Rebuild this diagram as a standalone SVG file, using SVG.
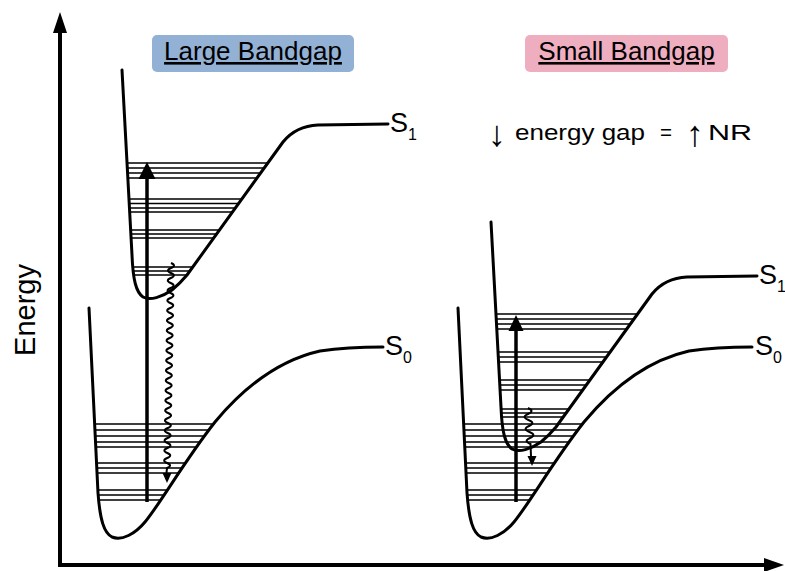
<svg xmlns="http://www.w3.org/2000/svg" xmlns:xlink="http://www.w3.org/1999/xlink" width="785" height="571" viewBox="0 0 785 571">
<style>
.curve{fill:none;stroke:#000;stroke-width:3;stroke-linecap:round;stroke-linejoin:round}
.lvl{stroke:#000;stroke-width:1.6}
.axis{stroke:#000;stroke-width:4;fill:none}
.exc{stroke:#000;stroke-width:3.5;fill:none}
.wavy{stroke:#000;stroke-width:2;fill:none}
.head{fill:#000}
text{font-family:"Liberation Sans",Arial,sans-serif;fill:#000}
.title{font-size:26px;text-decoration:underline;text-anchor:middle}
.lab{font-size:27px}
.sub{font-size:16px}
.arr{font-size:36px}
</style>
<defs>
<path id="s1" d="M122,70 L132,255 C133,280 136,292 143,297 C150,301 162,297 172,290 C178,285 182,281 187,275 L283,142 Q296,126 318,125 L388,124"/>
<path id="s0" d="M89,308 L98,493 C100,520 104,533 112,537 C122,541 135,534 145,522 C160,504 185,460 215,422 C245,386 280,360 320,351 C340,348 360,347 383,347"/>
<clipPath id="cS1L"><use xlink:href="#s1"/></clipPath>
<clipPath id="cS0L"><use xlink:href="#s0"/></clipPath>
<clipPath id="cS1R"><use xlink:href="#s1" transform="translate(369,152)"/></clipPath>
<clipPath id="cS0R"><use xlink:href="#s0" transform="translate(369,0)"/></clipPath>
</defs>

<g id="axes">
<line class="axis" x1="60" y1="567" x2="60" y2="30"/>
<polygon class="head" points="60,12 53,33 67,33"/>
<line class="axis" x1="58" y1="565" x2="768" y2="565"/>
<polygon class="head" points="784,565 764,558 764,572"/>
<text transform="translate(35,310) rotate(-90)" font-size="29" text-anchor="middle" fill="#111">Energy</text>
</g>

<g id="title-large">
<rect x="152" y="35" width="202" height="37" rx="5" fill="#93b1d5"/>
<text class="title" x="253" y="60">Large Bandgap</text>
</g>
<g id="title-small">
<rect x="525" y="35" width="203" height="37" rx="5" fill="#efaec0"/>
<text class="title" x="626.5" y="60">Small Bandgap</text>
</g>
<g id="note">
<text y="140" font-size="22" style="white-space:pre"><tspan class="arr" x="488" y="146">↓</tspan><tspan x="515" y="140" textLength="130" lengthAdjust="spacingAndGlyphs">energy gap</tspan><tspan x="660" y="140" textLength="12" lengthAdjust="spacingAndGlyphs">=</tspan><tspan class="arr" x="686" y="146">↑</tspan><tspan x="708" y="140" textLength="44" lengthAdjust="spacingAndGlyphs">NR</tspan></text>
</g>

<g id="levels-left">
<g clip-path="url(#cS1L)">
<path class="lvl" d="M100,163H300M100,168H300M100,173H300M100,178H300M100,199H300M100,203.5H300M100,208H300M100,212H300M100,230H300M100,234H300M100,238H300M100,267H300M100,271H300M100,275H300"/>
</g>
<g clip-path="url(#cS0L)">
<path class="lvl" d="M80,424H300M80,430H300M80,436H300M80,442H300M80,447H300M80,463H300M80,468H300M80,473H300M80,490H300M80,495H300M80,500H300"/>
</g>
</g>
<g id="levels-right">
<g clip-path="url(#cS1R)">
<path class="lvl" d="M470,314H680M470,319H680M470,324H680M470,329H680M470,352H680M470,357H680M470,362H680M470,380H680M470,385H680M470,390H680M470,409H680M470,413H680M470,417H680"/>
</g>
<g clip-path="url(#cS0R)">
<path class="lvl" d="M450,424H680M450,430H680M450,436H680M450,442H680M450,447H680M450,463H680M450,468H680M450,473H680M450,490H680M450,495H680M450,500H680"/>
</g>
</g>

<g id="S1-left">
<use xlink:href="#s1" class="curve"/>
<text class="lab" x="390" y="132">S<tspan class="sub" dy="8">1</tspan></text>
</g>
<g id="S0-left">
<use xlink:href="#s0" class="curve"/>
<text class="lab" x="385" y="355">S<tspan class="sub" dy="8">0</tspan></text>
</g>
<g id="S1-right">
<use xlink:href="#s1" class="curve" transform="translate(369,152)"/>
<text class="lab" x="759" y="284">S<tspan class="sub" dy="8">1</tspan></text>
</g>
<g id="S0-right">
<use xlink:href="#s0" class="curve" transform="translate(369,0)"/>
<text class="lab" x="755" y="355">S<tspan class="sub" dy="8">0</tspan></text>
</g>

<g id="connectors">
<line class="exc" x1="147" y1="502" x2="147" y2="175"/>
<polygon class="head" points="147,162 138.5,179 155.5,179"/>
<path class="wavy" d="M171,263 q6,2.5 0,5 t-0.1,5 t-0.1,5 t-0.1,5 t-0.1,5 t-0.1,5 t-0.1,5 t-0.1,5 t-0.1,5 t-0.1,5 t-0.1,5 t-0.1,5 t-0.1,5 t-0.1,5 t-0.1,5 t-0.1,5 t-0.1,5 t-0.1,5 t-0.1,5 t-0.1,5 t-0.1,5 t-0.1,5 t-0.1,5 t-0.1,5 t-0.1,5 t-0.1,5 t-0.1,5 t-0.1,5 t-0.1,5 t-0.1,5 t-0.1,5 t-0.1,5 t-0.1,5 t-0.1,5 t-0.1,5 t-0.1,5 t-0.1,5 t-0.1,5 t-0.1,5 t-0.1,5 t-0.1,5 l-0.5,5"/>
<polygon class="head" points="167,483 162.5,473 171.5,473"/>
<line class="exc" x1="516" y1="502" x2="516" y2="327"/>
<polygon class="head" points="516,315 508.5,331 523.5,331"/>
<path class="wavy" d="M528,408 q7,3 0,6 t0.5,6 t0.5,6 t0.5,6 t0.5,6 t0.5,6 l0.5,12"/>
<polygon class="head" points="532,466 527.5,456 536.5,456"/>
</g>
</svg>
